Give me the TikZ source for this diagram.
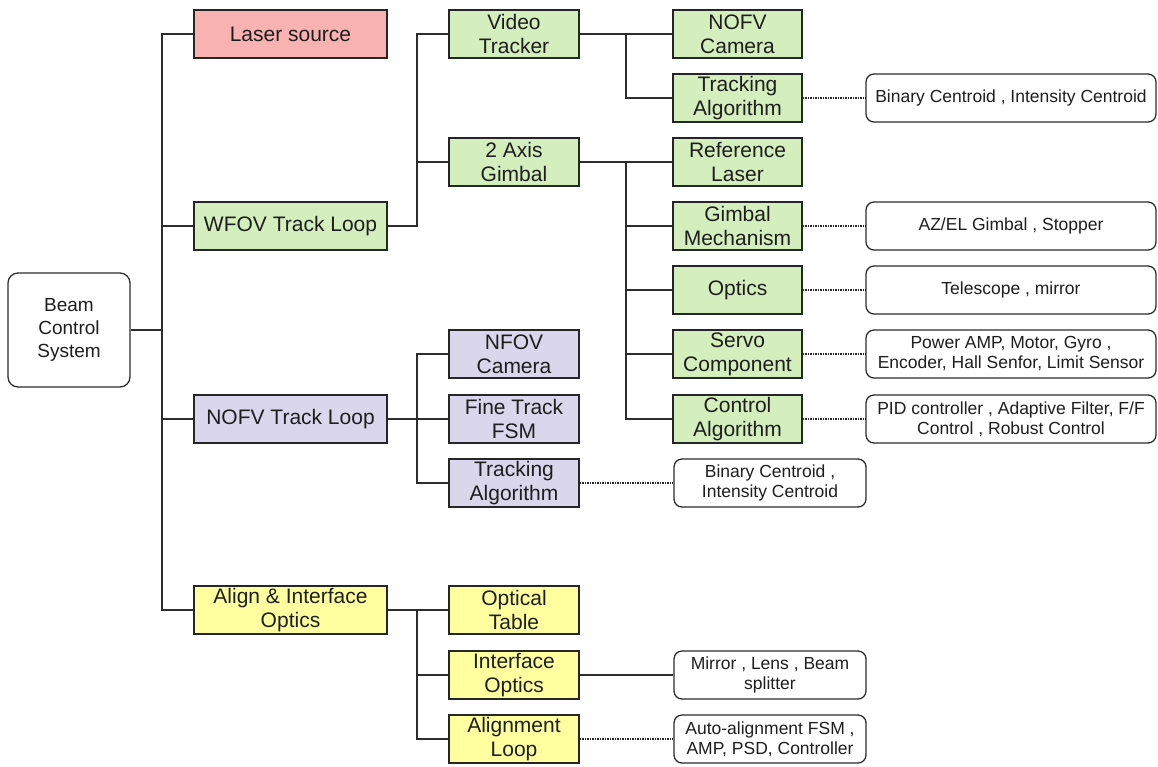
\documentclass[tikz,border=0pt]{standalone}
\usepackage{fontspec}
\setmainfont{Liberation Sans}
\definecolor{linegray}{RGB}{45,45,45}
\definecolor{txt}{RGB}{30,30,30}
\definecolor{cred}{RGB}{248,178,178}
\definecolor{cgreen}{RGB}{212,238,190}
\definecolor{cviolet}{RGB}{218,214,236}
\definecolor{cyellow}{RGB}{255,255,160}
\tikzset{
  x=1pt, y=-1pt,
  hatched/.style={draw=black!85, line width=1.3pt, inner sep=0pt, text=txt,
    align=center, font=\fontsize{21}{24}\selectfont, fill=#1},
  lvlone/.style={hatched=#1, minimum width=193pt, minimum height=48pt},
  lvltwo/.style={hatched=#1, minimum width=130pt, minimum height=48pt},
  lvlthree/.style={hatched=#1, minimum width=129pt, minimum height=48pt},
  note/.style={draw=linegray, line width=1.3pt, rounded corners=8pt, fill=white,
    inner sep=0pt, text=txt, align=center, font=\fontsize{17.5}{20}\selectfont,
    minimum height=48pt},
  wide/.style={note, minimum width=290pt},
  narrow/.style={note, minimum width=192pt},
  wire/.style={draw=linegray, line width=1.4pt},
  dots/.style={draw=black!85, line width=2.2pt, dash pattern=on 1.5pt off 1pt},
}
\begin{document}
\begin{tikzpicture}
\useasboundingbox (0,0) rectangle (1158,766);

% root
\node[draw=linegray, line width=1.3pt, rounded corners=10pt, inner sep=0pt,
  minimum width=122pt, minimum height=114pt, align=center, text=txt,
  font=\fontsize{19}{23}\selectfont] (beam) at (69,330) {Beam\\Control\\System};

% first level
\node[lvlone=cred]    (laser) at (290.5,34)  {Laser source};
\node[lvlone=cgreen]  (wfov)  at (290.5,226) {WFOV Track Loop};
\node[lvlone=cviolet] (nofv)  at (290.5,419) {NOFV Track Loop};
\node[lvlone=cyellow] (align) at (290.5,610) {Align \& Interface\\Optics};

% second level
\node[lvltwo=cgreen]   (video)   at (514,34)  {Video\\Tracker};
\node[lvltwo=cgreen]   (gimbal)  at (514,162) {2 Axis\\Gimbal};
\node[lvltwo=cviolet]  (ncam)    at (514,354) {NFOV\\Camera};
\node[lvltwo=cviolet]  (fsm)     at (514,419) {Fine Track\\FSM};
\node[lvltwo=cviolet]  (ntrack)  at (514,483) {Tracking\\Algorithm};
\node[lvltwo=cyellow]  (otable)  at (514,610) {Optical\\Table};
\node[lvltwo=cyellow]  (ifopt)   at (514,675) {Interface\\Optics};
\node[lvltwo=cyellow]  (aloop)   at (514,739) {Alignment\\Loop};

% third level
\node[lvlthree=cgreen] (wcam)    at (737.5,34)  {NOFV\\Camera};
\node[lvlthree=cgreen] (wtrack)  at (737.5,98)  {Tracking\\Algorithm};
\node[lvlthree=cgreen] (reflas)  at (737.5,162) {Reference\\Laser};
\node[lvlthree=cgreen] (gmech)   at (737.5,226) {Gimbal\\Mechanism};
\node[lvlthree=cgreen] (optics)  at (737.5,290) {Optics};
\node[lvlthree=cgreen] (servo)   at (737.5,354) {Servo\\Component};
\node[lvlthree=cgreen] (ctrl)    at (737.5,419) {Control\\Algorithm};

% detail notes
\node[wide] (n1) at (1011,98)  {Binary Centroid , Intensity Centroid};
\node[wide] (n2) at (1011,226) {AZ/EL Gimbal , Stopper};
\node[wide] (n3) at (1011,290) {Telescope , mirror};
\node[wide] (n4) at (1011,354) {Power AMP, Motor, Gyro ,\\Encoder, Hall Senfor, Limit Sensor};
\node[wide] (n5) at (1011,419) {PID controller , Adaptive Filter, F/F\\Control , Robust Control};
\node[narrow] (n6) at (770,483) {Binary Centroid ,\\Intensity Centroid};
\node[narrow] (n7) at (770,675) {Mirror , Lens , Beam\\splitter};
\node[narrow] (n8) at (770,739) {Auto-alignment FSM ,\\AMP, PSD, Controller};

% bus positions
\coordinate (b0) at (162,330);
\coordinate (b1) at (417,226);
\coordinate (b2) at (626,34);
\coordinate (b3) at (626,162);
\coordinate (b4) at (417,419);
\coordinate (b5) at (417,610);

% root trunk
\draw[wire] (beam.east) -- (b0);
\draw[wire] (laser.west) -- (laser.west -| b0) -- (align.west -| b0) -- (align.west);
\draw[wire] (wfov.west) -- (wfov.west -| b0);
\draw[wire] (nofv.west) -- (nofv.west -| b0);

% WFOV branch
\draw[wire] (wfov.east) -- (b1) -- (video.west -| b1) -- (video.west);
\draw[wire] (gimbal.west) -- (gimbal.west -| b1);

% video tracker branch
\draw[wire] (video.east) -- (wcam.west);
\draw[wire] (b2) -- (wtrack.west -| b2) -- (wtrack.west);

% gimbal branch
\draw[wire] (gimbal.east) -- (reflas.west);
\draw[wire] (b3) -- (ctrl.west -| b3) -- (ctrl.west);
\draw[wire] (gmech.west) -- (gmech.west -| b3);
\draw[wire] (optics.west) -- (optics.west -| b3);
\draw[wire] (servo.west) -- (servo.west -| b3);

% NOFV branch
\draw[wire] (nofv.east) -- (fsm.west);
\draw[wire] (ncam.west) -- (ncam.west -| b4) -- (ntrack.west -| b4) -- (ntrack.west);

% alignment branch
\draw[wire] (align.east) -- (otable.west);
\draw[wire] (b5) -- (aloop.west -| b5) -- (aloop.west);
\draw[wire] (ifopt.west) -- (ifopt.west -| b5);

% detail links
\draw[dots] (wtrack.east) -- (n1.west);
\draw[dots] (gmech.east) -- (n2.west);
\draw[dots] (optics.east) -- (n3.west);
\draw[dots] (servo.east) -- (n4.west);
\draw[dots] (ctrl.east) -- (n5.west);
\draw[dots] (ntrack.east) -- (n6.west);
\draw[wire] (ifopt.east) -- (n7.west);
\draw[dots] (aloop.east) -- (n8.west);
\end{tikzpicture}
\end{document}
